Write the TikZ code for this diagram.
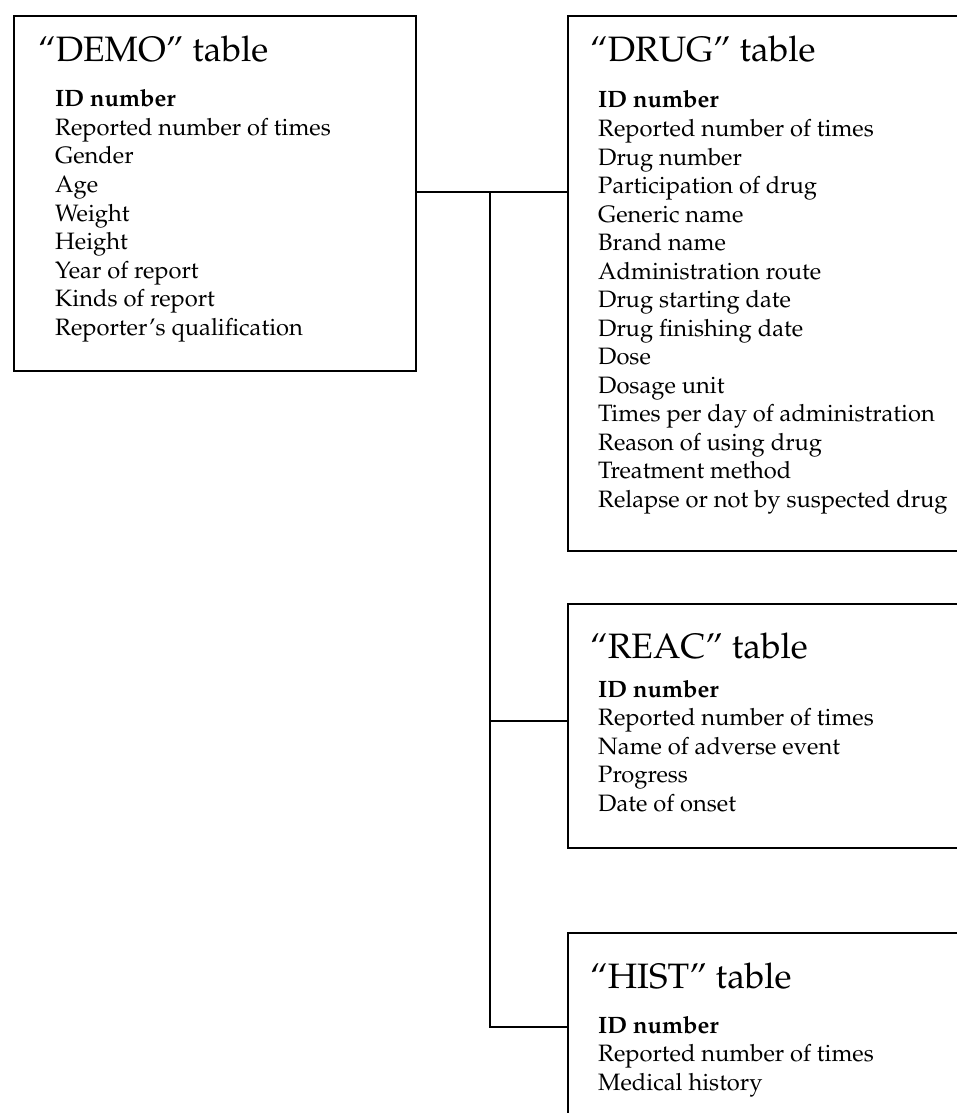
\documentclass[tikz,border=0pt]{standalone}
\usepackage[T1]{fontenc}
\usepackage{mathpazo}

\tikzset{
  tablebox/.style={draw, rectangle, line width=2.2pt, anchor=north west, inner sep=0pt},
  tabletitle/.style={anchor=base west, inner sep=0pt, font=\fontsize{35.3}{40}\selectfont},
  fieldtext/.style={anchor=base west, inner sep=0pt, font=\fontsize{23.7}{28.5}\selectfont},
  link/.style={line width=1.9pt}
}

\begin{document}
\begin{tikzpicture}[x=1pt, y=1pt]
        \useasboundingbox (0,0) rectangle (957,-1113);
        \clip (0,0) rectangle (957,-1113);

        % Table boxes
        \node[tablebox, minimum width=402.5pt, minimum height=355.3pt] (demo) at (12.5,-14.7) {};
        \node[tablebox, minimum width=420pt, minimum height=535pt] (drug) at (567,-15) {};
        \node[tablebox, minimum width=420pt, minimum height=244pt] (reac) at (567,-603) {};
        \node[tablebox, minimum width=420pt, minimum height=240pt] (hist) at (567,-932) {};

        % "DEMO" table
        \node[tabletitle] (demo-title) at (38,-62) {``DEMO'' table};
        \foreach \f [count=\i from 0] in {\textbf{ID number}, Reported number of times, Gender, Age,
            Weight, Height, Year of report, Kinds of report, Reporter's qualification}
          \node[fieldtext] (demo-\i) at (55,-107-28.5*\i) {\f};

        % "DRUG" table
        \node[tabletitle] (drug-title) at (590,-62) {``DRUG'' table};
        \foreach \f [count=\i from 0] in {\textbf{ID number}, Reported number of times, Drug number,
            Participation of drug, Generic name, Brand name, Administration route,
            Drug starting date, Drug finishing date, Dose, Dosage unit,
            Times per day of administration, Reason of using drug, Treatment method,
            Relapse or not by suspected drug}
          \node[fieldtext] (drug-\i) at (598,-108-28.5*\i) {\f};

        % "REAC" table
        \node[tabletitle] (reac-title) at (590,-658) {``REAC'' table};
        \foreach \f [count=\i from 0] in {\textbf{ID number}, Reported number of times,
            Name of adverse event, Progress, Date of onset}
          \node[fieldtext] (reac-\i) at (598,-697-28.5*\i) {\f};

        % "HIST" table
        \node[tabletitle] (hist-title) at (590,-988) {``HIST'' table};
        \foreach \f [count=\i from 0] in {\textbf{ID number}, Reported number of times, Medical history}
          \node[fieldtext] (hist-\i) at (598,-1033-28.5*\i) {\f};

        % Links between tables
        \coordinate (split-top) at (490,-192);
        \coordinate (split-reac) at (490,-721);
        \coordinate (split-hist) at (490,-1027);
        \draw[link] (demo.east |- split-top) -- (drug.west |- split-top);
        \draw[link] (split-top) -- (split-hist) -- (hist.west |- split-hist);
        \draw[link] (split-reac) -- (reac.west |- split-reac);
    \end{tikzpicture}
\end{document}
